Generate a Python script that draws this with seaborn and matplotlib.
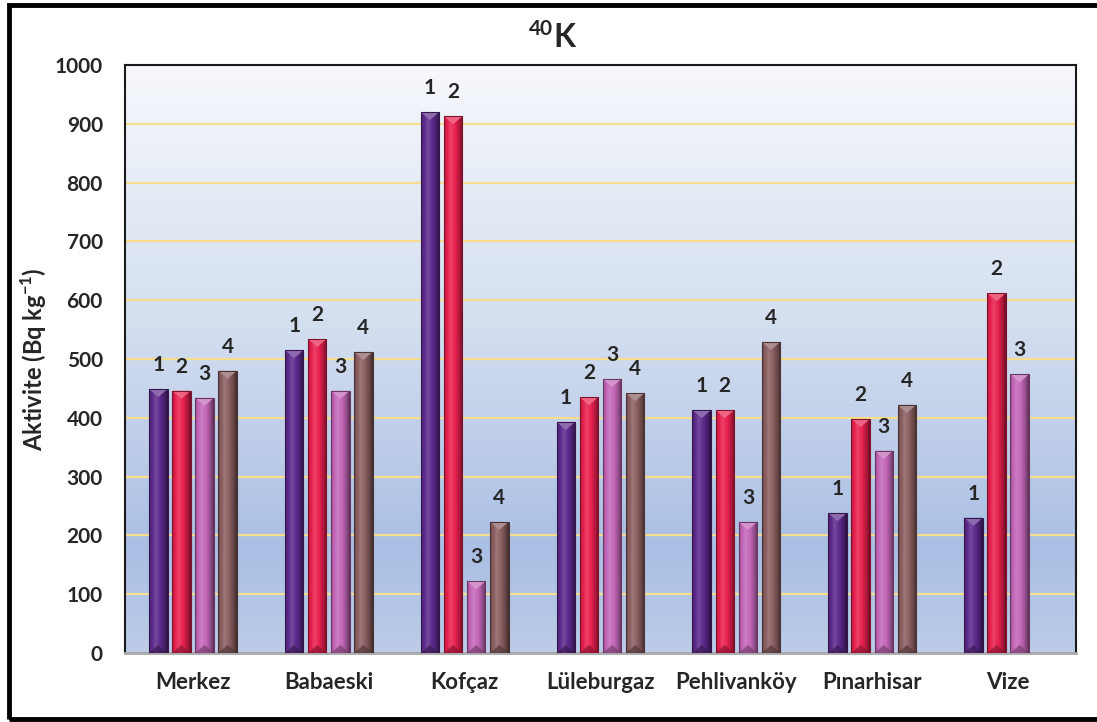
import numpy as np
import pandas as pd
import matplotlib
matplotlib.use("Agg")
import matplotlib.pyplot as plt
from matplotlib.colors import to_rgb, LinearSegmentedColormap
from matplotlib.patches import Polygon, Rectangle
import seaborn as sns

# veriler
yerler = ["Merkez", "Babaeski", "Kofçaz", "Lüleburgaz", "Pehlivanköy", "Pınarhisar", "Vize"]
ornekler = ["1", "2", "3", "4"]
ornek1 = [449, 515, 920, 393, 413, 238, 230]
ornek2 = [446, 534, 913, 435, 413, 398, 612]
ornek3 = [434, 446, 122, 466, 223, 344, 474]
ornek4 = [480, 512, 223, 442, 529, 422, np.nan]
renkler = ["#5E2A8C", "#E8204E", "#C466B8", "#8A5E60"]
yticks = [0, 100, 200, 300, 400, 500, 600, 700, 800, 900, 1000]

veri = pd.DataFrame({
    "Yer": yerler * 4,
    "Ornek": np.repeat(ornekler, len(yerler)),
    "Aktivite": ornek1 + ornek2 + ornek3 + ornek4,
}).dropna()

sns.set_style("white")
plt.rcParams["font.family"] = ["Lato", "DejaVu Sans"]
plt.rcParams["mathtext.fontset"] = "custom"
plt.rcParams["mathtext.rm"] = "Lato:bold"
plt.rcParams["mathtext.bf"] = "Lato:bold"

fig = plt.figure(figsize=(10.97, 7.22), dpi=100)
ax = fig.add_axes([125 / 1097, 69 / 722, 951 / 1097, 588 / 722])

# arka plan gradyani
bg = LinearSegmentedColormap.from_list(
    "bg", [(0, "#F6F8FC"), (0.45, "#D3DEEF"), (0.82, "#AABFE4"), (1, "#BCCCE9")])
ax.imshow(np.linspace(0, 1, 256).reshape(-1, 1), cmap=bg, aspect="auto",
          extent=(0, 1, 0, 1), transform=ax.transAxes, zorder=0)

for t in yticks[1:-1]:
    ax.axhline(t, color="#F7DE8E", lw=1.6, zorder=1)

sns.barplot(data=veri, x="Yer", y="Aktivite", hue="Ornek", order=yerler,
            hue_order=ornekler, palette=renkler, width=0.68, gap=0.2,
            saturation=1, errorbar=None, legend=False, ax=ax, zorder=3,
            edgecolor="none")

ax.set_xlim(-0.5, len(yerler) - 0.5)
ax.set_ylim(0, 1000)

birim = 1000 / ax.bbox.height  # piksel basina veri birimi
kap = 8 * birim

def karistir(c, f):
    c = np.array(c)
    if f >= 1:
        return c + (1 - c) * (f - 1)
    return c * f

konum = np.array([0, 0.12, 0.35, 0.6, 0.85, 1.0])
carpan = np.array([0.72, 0.95, 1.15, 1.0, 0.72, 0.45])
xs = np.linspace(0, 1, 64)

for kap_grubu, renk, etiket in zip(ax.containers, renkler, ornekler):
    base = to_rgb(renk)
    img = np.array([karistir(base, np.interp(x, konum, carpan)) for x in xs])
    img = np.clip(img, 0, 1).reshape(1, -1, 3)
    for bar in kap_grubu:
        h = bar.get_height()
        if np.isnan(h):
            continue
        x0 = bar.get_x()
        x1 = x0 + bar.get_width()
        xc = (x0 + x1) / 2
        im = ax.imshow(img, aspect="auto", extent=(x0, x1, 0, h), zorder=4)
        im.set_clip_path(bar)
        ax.add_patch(Polygon([(x0, h), (x1, h), (xc, h - kap)], closed=True,
                             fc=np.clip(karistir(base, 1.3), 0, 1), ec="none", zorder=5))
        ax.add_patch(Polygon([(x0, 0), (x1, 0), (xc, kap)], closed=True,
                             fc=karistir(base, 0.6), ec="none", alpha=0.7, zorder=5))
        ax.add_patch(Rectangle((x0, 0), x1 - x0, h, fill=False,
                               ec=karistir(base, 0.55), lw=0.8, zorder=6))
        ax.annotate(etiket, (xc, h), xytext=(0, 18), textcoords="offset pixels",
                    ha="center", va="baseline", fontsize=15, fontweight="bold")

ax.set_xlim(-0.5, len(yerler) - 0.5)
ax.set_ylim(0, 1000)
ax.set_yticks(yticks)
ax.tick_params(axis="both", length=0, labelsize=15)
ax.tick_params(axis="x", labelsize=16)
ax.tick_params(axis="y", pad=16)
ax.tick_params(axis="x", pad=14)
for lab in ax.get_xticklabels() + ax.get_yticklabels():
    lab.set_fontweight("bold")
ax.set_xlabel("")
ax.set_ylabel(r"Aktivite (Bq kg$^{-1}$)", fontsize=17, fontweight="bold")
ax.yaxis.set_label_coords(-0.08, 0.5)

for s in ["top", "right", "left"]:
    ax.spines[s].set_color("#1A1A1A")
    ax.spines[s].set_linewidth(1.5)
ax.spines["bottom"].set_color("#A8A8A8")
ax.spines["bottom"].set_linewidth(2)

# baslik: 40K (ust simge)
fig.text(553 / 1097, 0.935, "K", ha="left", va="baseline", fontsize=23, fontweight="bold")
fig.text(553 / 1097, 0.952, "40", ha="right", va="baseline", fontsize=15, fontweight="bold")

fig.patches.append(Rectangle((0.008, 0.004), 1.0, 0.989, transform=fig.transFigure,
                             fill=False, ec="black", lw=3.5))

fig.savefig("out.png", dpi=100)
